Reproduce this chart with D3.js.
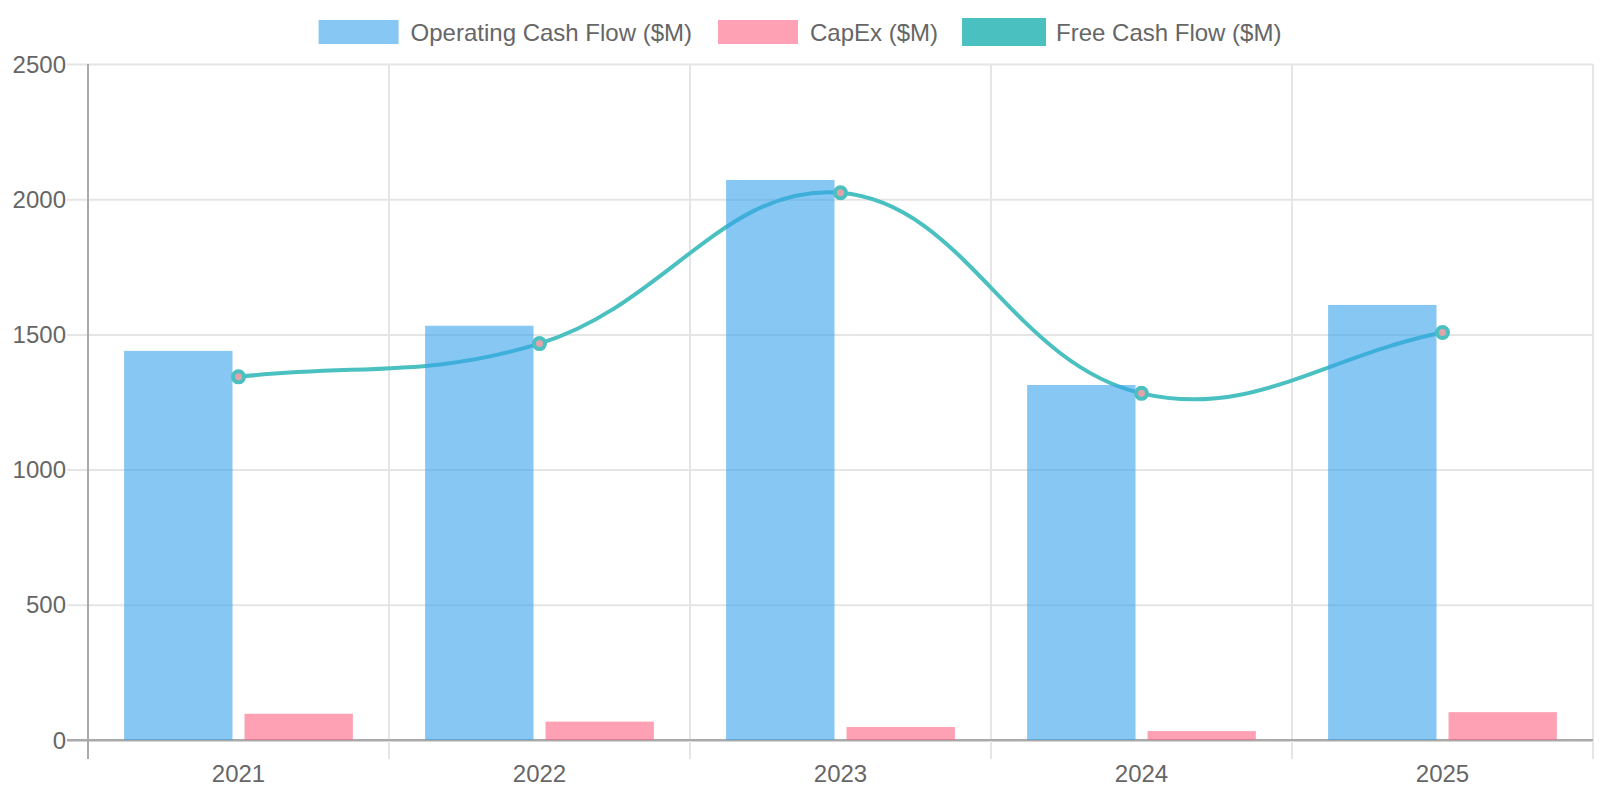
<!DOCTYPE html>
<html>
<head>
<meta charset="utf-8">
<script src="https://cdn.jsdelivr.net/npm/d3@7"></script>
<style>
  html, body { margin: 0; padding: 0; background: #fff; }
  svg { display: block; font-family: "Helvetica Neue", Helvetica, Arial, "Liberation Sans", sans-serif; }
</style>
</head>
<body>
<svg id="chart" width="1600" height="800"></svg>
<script>
// ---- data ----
const years = ["2021", "2022", "2023", "2024", "2025"];
const operatingCashFlow = [1439, 1532, 2071, 1313, 1609];
const capex = [97, 68, 48, 33, 103];
const freeCashFlow = [1343, 1466, 2024, 1282, 1507];
const yTickValues = [0, 500, 1000, 1500, 2000, 2500];
const seriesNames = ["Operating Cash Flow ($M)", "CapEx ($M)", "Free Cash Flow ($M)"];

(function () {
// ---- layout ----
const plotLeft = 88, plotRight = 1593, plotTop = 64, plotBottom = 740;
const svg = d3.select("#chart");
const gridColor = "#e5e5e5", axisColor = "#aaaaaa", textColor = "#666666";
const blue = "rgba(54,162,235,0.6)", pink = "rgba(255,99,132,0.6)", teal = "#4bc0c0";

const x = d3.scaleBand().domain(years).range([plotLeft, plotRight]).padding(0);
const bw = x.bandwidth();
const x1 = d3.scaleBand().domain(["ocf", "capex"]).range([0.1 * bw, 0.9 * bw]).paddingInner(0.1).paddingOuter(0.05);
const y = d3.scaleLinear().domain([0, 2500]).range([plotBottom, plotTop]);

// horizontal grid (including left tick extension)
const gGrid = svg.append("g").attr("transform", `translate(${plotLeft - 21},0)`)
  .call(d3.axisRight(y).tickValues(yTickValues).tickSize(plotRight - plotLeft + 21).tickFormat(""));
gGrid.select(".domain").remove();
gGrid.selectAll("line").attr("stroke", d => d === 0 ? axisColor : gridColor).attr("stroke-width", 2);

// vertical grid at category boundaries
const bounds = years.map(d => x(d)).concat([plotRight]);
svg.append("g").selectAll("line").data(bounds).join("line")
  .attr("x1", d => d).attr("x2", d => d).attr("y1", plotTop).attr("y2", plotBottom + 19)
  .attr("stroke", (d, i) => i === 0 ? axisColor : gridColor).attr("stroke-width", 2);

// redraw zero line on top of vertical grid
svg.append("line").attr("x1", plotLeft - 21).attr("x2", plotRight).attr("y1", y(0)).attr("y2", y(0))
  .attr("stroke", axisColor).attr("stroke-width", 2);

// y labels
const gY = svg.append("g").attr("transform", `translate(${plotLeft},0)`)
  .call(d3.axisLeft(y).tickValues(yTickValues).tickSize(21).tickPadding(1).tickFormat(d3.format("d")));
gY.select(".domain").remove();
gY.selectAll("line").remove();
gY.attr("font-family", null).attr("font-size", null);
gY.selectAll("text").attr("fill", textColor).style("font-size", "24px").attr("dy", "0.34em");

// x labels
const gX = svg.append("g").attr("transform", `translate(0,${plotBottom})`)
  .call(d3.axisBottom(x).tickSize(0).tickPadding(25));
gX.select(".domain").remove();
gX.attr("font-family", null).attr("font-size", null);
gX.selectAll("text").attr("fill", textColor).style("font-size", "24px");

// ---- FCF line (Chart.js style spline, tension 0.4) drawn under bars ----
const pts = years.map((d, i) => [x(d) + bw / 2, y(freeCashFlow[i])]);
function splineControls(points, t) {
  return points.map((p, i) => {
    const prev = points[i - 1] || p, next = points[i + 1] || p;
    const d01 = Math.hypot(p[0] - prev[0], p[1] - prev[1]);
    const d12 = Math.hypot(next[0] - p[0], next[1] - p[1]);
    let s01 = d01 / (d01 + d12), s12 = d12 / (d01 + d12);
    s01 = isNaN(s01) ? 0 : s01; s12 = isNaN(s12) ? 0 : s12;
    const fa = t * s01, fb = t * s12;
    return {
      prev: [p[0] - fa * (next[0] - prev[0]), p[1] - fa * (next[1] - prev[1])],
      next: [p[0] + fb * (next[0] - prev[0]), p[1] + fb * (next[1] - prev[1])]
    };
  });
}
const cps = splineControls(pts, 0.4);
const path = d3.path();
path.moveTo(pts[0][0], pts[0][1]);
for (let i = 1; i < pts.length; i++) {
  path.bezierCurveTo(cps[i - 1].next[0], cps[i - 1].next[1], cps[i].prev[0], cps[i].prev[1], pts[i][0], pts[i][1]);
}
svg.append("path").attr("d", path.toString()).attr("fill", "none")
  .attr("stroke", teal).attr("stroke-width", 4).attr("stroke-linejoin", "round");

// ---- bars ----
const gBars = svg.append("g");
gBars.selectAll("rect.ocf").data(years).join("rect").attr("class", "ocf")
  .attr("x", d => x(d) + x1("ocf")).attr("width", x1.bandwidth())
  .attr("y", (d, i) => y(operatingCashFlow[i])).attr("height", (d, i) => y(0) - y(operatingCashFlow[i]))
  .attr("fill", blue);
gBars.selectAll("rect.capex").data(years).join("rect").attr("class", "capex")
  .attr("x", d => x(d) + x1("capex")).attr("width", x1.bandwidth())
  .attr("y", (d, i) => y(capex[i])).attr("height", (d, i) => y(0) - y(capex[i]))
  .attr("fill", pink);

// ---- points ----
svg.append("g").selectAll("circle").data(pts).join("circle")
  .attr("cx", d => d[0]).attr("cy", d => d[1]).attr("r", 5.5)
  .attr("fill", "#dfa3a9").attr("stroke", teal).attr("stroke-width", 4);

// ---- legend ----
const legendColors = [blue, pink, teal];
const legend = svg.append("g");
const items = legend.selectAll("g").data(seriesNames).join("g");
items.append("rect").attr("width", 80).attr("height", 24).attr("y", 20)
  .attr("fill", (d, i) => legendColors[i])
  .attr("stroke", (d, i) => i === 2 ? teal : "none").attr("stroke-width", 4);
items.append("text").text(d => d).attr("x", 92).attr("y", 40.5)
  .attr("fill", textColor).style("font-size", "24px");
const widths = [];
items.each(function () { widths.push(this.querySelector("text").getComputedTextLength() + 92); });
const gap = 26;
const total = d3.sum(widths) + gap * (widths.length - 1);
let cx = 800 - total / 2;
items.attr("transform", (d, i) => { const t = `translate(${cx},0)`; cx += widths[i] + gap; return t; });
})();
</script>
</body>
</html>
